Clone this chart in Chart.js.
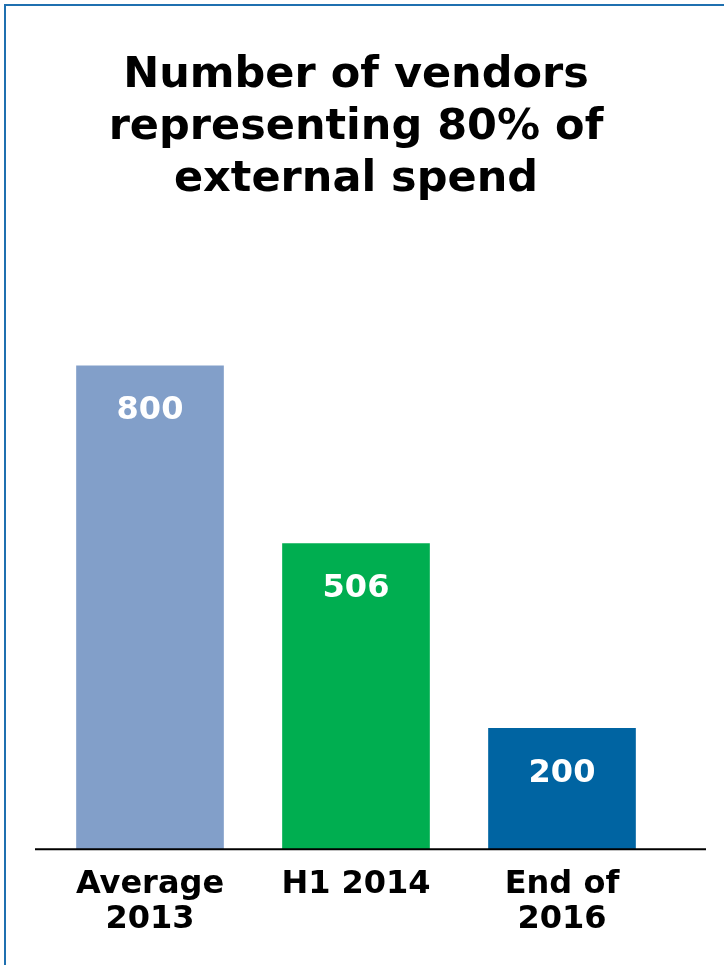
<!DOCTYPE html>
<html>
<head>
<meta charset="utf-8">
<script src="https://cdn.jsdelivr.net/npm/chart.js@4.4.1/dist/chart.umd.min.js"></script>
<style>
  html, body { margin: 0; padding: 0; background: #fff; }
  #wrap { position: relative; width: 724px; height: 965px; }
  #frame {
    position: absolute; left: 4px; top: 4px; right: 0; bottom: 0;
    border-top: 2px solid #1f70b0; border-left: 2px solid #1f70b0;
  }
  canvas { position: absolute; left: 0; top: 0; }
</style>
</head>
<body>
<div id="wrap">
  <div id="frame"></div>
  <canvas id="chart" width="724" height="965"></canvas>
</div>
<script>
const categories = [['Average', '2013'], 'H1 2014', ['End of', '2016']];
const vendorCounts = [800, 506, 200];
const barColors = ['#829fc9', '#00ae50', '#0064a2'];
const titleLines = ['Number of vendors', 'representing 80% of', 'external spend'];

const FONT = "'DejaVu Sans', Verdana, sans-serif";

// white value text inside the top of each bar, plus the long baseline
const barLabels = {
  id: 'barLabels',
  afterDatasetsDraw(chart) {
    const ctx = chart.ctx;
    const meta = chart.getDatasetMeta(0);
    ctx.save();
    ctx.fillStyle = '#fff';
    ctx.font = 'bold 32px ' + FONT;
    ctx.textAlign = 'center';
    ctx.textBaseline = 'middle';
    meta.data.forEach((bar, i) => {
      ctx.fillText(String(vendorCounts[i]), bar.x, bar.y + 45);
    });
    const y = chart.chartArea.bottom;
    ctx.strokeStyle = '#000';
    ctx.lineWidth = 2;
    ctx.beginPath();
    ctx.moveTo(35, y);
    ctx.lineTo(706, y);
    ctx.stroke();
    ctx.restore();
  }
};

let c = document.getElementById('chart').getContext('2d');
new Chart(c, {
  type: 'bar',
  data: {
    labels: categories,
    datasets: [{
      data: vendorCounts,
      backgroundColor: barColors,
      barThickness: 147,
      borderWidth: 0
    }]
  },
  options: {
    responsive: false,
    animation: false,
    layout: { padding: { left: 47, right: 59, top: 30, bottom: 10 } },
    plugins: {
      legend: { display: false },
      tooltip: { enabled: false },
      title: {
        display: true,
        text: titleLines,
        color: '#000',
        font: { family: FONT, size: 43, weight: 'bold', lineHeight: 1.21 },
        padding: { top: 20, bottom: 39 }
      }
    },
    scales: {
      x: {
        grid: { display: false, drawTicks: false },
        border: { display: false },
        ticks: {
          color: '#000',
          padding: 18,
          font: { family: FONT, size: 32, weight: 'bold', lineHeight: 1.09 }
        }
      },
      y: {
        display: false,
        min: 0,
        max: 1000
      }
    }
  },
  plugins: [barLabels]
});
</script>
</body>
</html>
